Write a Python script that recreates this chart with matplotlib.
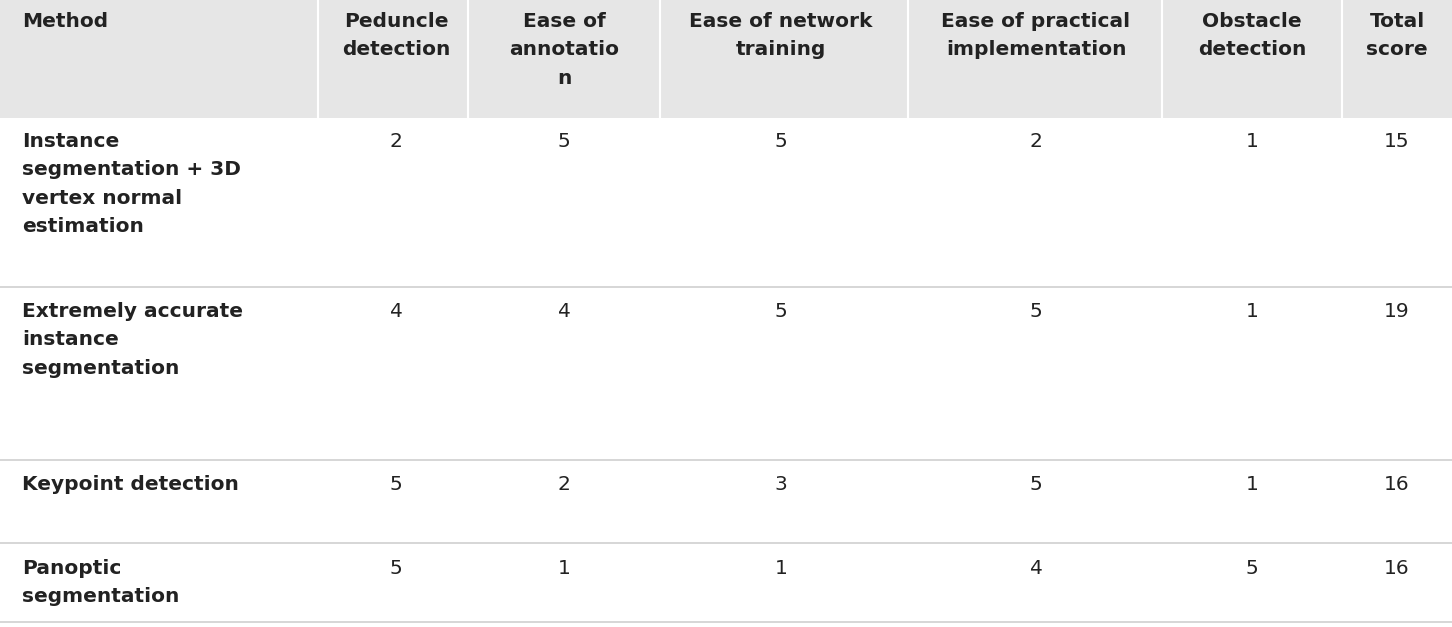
import matplotlib
matplotlib.use("Agg")
import matplotlib.pyplot as plt

# Table content
headers = ["Method", "Peduncle\ndetection", "Ease of\nannotatio\nn", "Ease of network\ntraining",
           "Ease of practical\nimplementation", "Obstacle\ndetection", "Total\nscore"]
methods = ["Instance\nsegmentation + 3D\nvertex normal\nestimation",
           "Extremely accurate\ninstance\nsegmentation",
           "Keypoint detection",
           "Panoptic\nsegmentation"]
peduncle = [2, 4, 5, 5]
annotation = [5, 4, 2, 1]
training = [5, 5, 3, 1]
practical = [2, 5, 5, 4]
obstacle = [1, 1, 1, 5]
total = [15, 19, 16, 16]

col_x = [22, 396, 564, 781, 1036, 1252, 1397]
col_sep = [318, 468, 660, 908, 1162, 1342]
row_top = [132, 302, 475, 559]
row_lines = [287, 460, 543, 622]

fig = plt.figure(figsize=(14.52, 6.27), dpi=100)
ax = fig.add_axes([0, 0, 1, 1])
ax.set_xlim(0, 1452)
ax.set_ylim(627, 0)
ax.axis("off")

fs = 14.5
ls = 1.62
txt = "#222222"

ax.add_patch(plt.Rectangle((0, 0), 1452, 118, color="#e6e6e6", lw=0))
for x in col_sep:
    ax.plot([x, x], [0, 118], color="white", lw=1.5)

for i, h in enumerate(headers):
    ha = "left" if i == 0 else "center"
    ax.text(col_x[i], 12, h, ha=ha, va="top", fontsize=fs, fontweight="bold",
            color=txt, linespacing=ls)

cols = [peduncle, annotation, training, practical, obstacle, total]
for r, m in enumerate(methods):
    y = row_top[r]
    ax.text(col_x[0], y, m, ha="left", va="top", fontsize=fs, fontweight="bold",
            color=txt, linespacing=ls)
    for c, vals in enumerate(cols):
        ax.text(col_x[c + 1], y, str(vals[r]), ha="center", va="top", fontsize=fs,
                color=txt)
    ax.plot([0, 1452], [row_lines[r], row_lines[r]], color="#d0d0d0", lw=1.2)

fig.savefig("out.png", dpi=100)
